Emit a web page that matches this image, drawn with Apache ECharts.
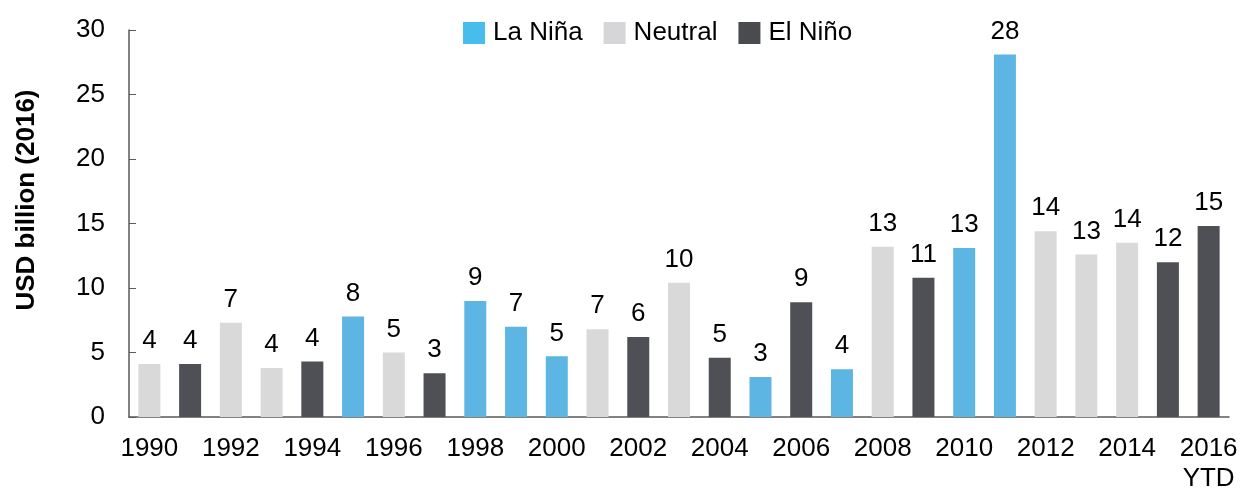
<!DOCTYPE html>
<html style="height: 100%">
<head>
<meta charset="utf-8">
<script src="https://cdn.jsdelivr.net/npm/echarts@6/dist/echarts.min.js"></script>
</head>
<body style="height: 100%; margin: 0; background: #fff">
<div id="container" style="width: 1240px; height: 488px"></div>
<script type="text/javascript">
var years = ['1990', '1991', '1992', '1993', '1994', '1995', '1996', '1997', '1998', '1999',
  '2000', '2001', '2002', '2003', '2004', '2005', '2006', '2007', '2008', '2009',
  '2010', '2011', '2012', '2013', '2014', '2015', '2016\nYTD'];
// losses, USD billion (2016)
var losses = [4.1, 4.1, 7.3, 3.8, 4.3, 7.8, 5.0, 3.4, 9.0, 7.0,
  4.7, 6.8, 6.2, 10.4, 4.6, 3.1, 8.9, 3.7, 13.2, 10.8,
  13.1, 28.1, 14.4, 12.6, 13.5, 12.0, 14.8];
// L = La Niña, N = Neutral, E = El Niño
var phase = ['N', 'E', 'N', 'N', 'E', 'L', 'N', 'E', 'L', 'L',
  'L', 'N', 'E', 'N', 'E', 'L', 'E', 'L', 'N', 'E',
  'L', 'L', 'N', 'N', 'N', 'E', 'E'];
var phaseNames = { L: 'La Niña', N: 'Neutral', E: 'El Niño' };
var colors = { L: '#5db5e3', N: '#d9d9d9', E: '#4f5055' };
var legendColors = { L: '#47bdec', N: '#d6d6d8', E: '#4a4b4f' };

var font = 'Arial, "Liberation Sans", sans-serif';
var chart = echarts.init(document.getElementById('container'));

var series = ['L', 'N', 'E'].map(function (k) {
  return {
    name: phaseNames[k],
    type: 'bar',
    barWidth: 22,
    barGap: '-100%',
    itemStyle: { color: colors[k] },
    label: {
      show: true,
      position: 'top',
      distance: 10,
      color: '#000',
      fontSize: 26,
      fontFamily: font,
      formatter: function (p) { return Math.round(p.value); }
    },
    data: losses.map(function (v, i) { return phase[i] === k ? v : null; })
  };
});

chart.setOption({
  animation: false,
  textStyle: { fontFamily: font },
  legend: {
    top: 15,
    left: 458,
    itemWidth: 22,
    itemHeight: 22,
    itemGap: 21,
    textStyle: { fontSize: 26, color: '#000', fontFamily: font, padding: [0, 0, 0, 3] },
    data: ['L', 'N', 'E'].map(function (k) {
      return { name: phaseNames[k], icon: 'rect', itemStyle: { color: legendColors[k] } };
    })
  },
  grid: { left: 129, right: 11, top: 30, bottom: 71, outerBoundsMode: 'none', containLabel: false },
  xAxis: {
    type: 'category',
    data: years,
    axisLine: { lineStyle: { color: '#595959', width: 1.5 } },
    axisTick: { inside: true, length: 6, interval: 0, lineStyle: { color: '#595959' } },
    axisLabel: {
      interval: 1,
      margin: 17,
      fontSize: 26,
      lineHeight: 30,
      color: '#000',
      fontFamily: font
    }
  },
  yAxis: {
    type: 'value',
    min: 0,
    max: 30,
    interval: 5,
    splitLine: { show: false },
    axisLine: { show: true, lineStyle: { color: '#595959', width: 1.5 } },
    axisTick: { show: true, inside: true, length: 7, lineStyle: { color: '#595959' } },
    axisLabel: { margin: 24, fontSize: 26, color: '#000', fontFamily: font }
  },
  graphic: [{
    type: 'text',
    x: 27,
    y: 200,
    rotation: Math.PI / 2,
    style: {
      text: 'USD billion (2016)',
      font: 'bold 26px ' + font,
      fill: '#000',
      textAlign: 'center',
      textVerticalAlign: 'middle'
    }
  }],
  series: series
});
</script>
</body>
</html>
